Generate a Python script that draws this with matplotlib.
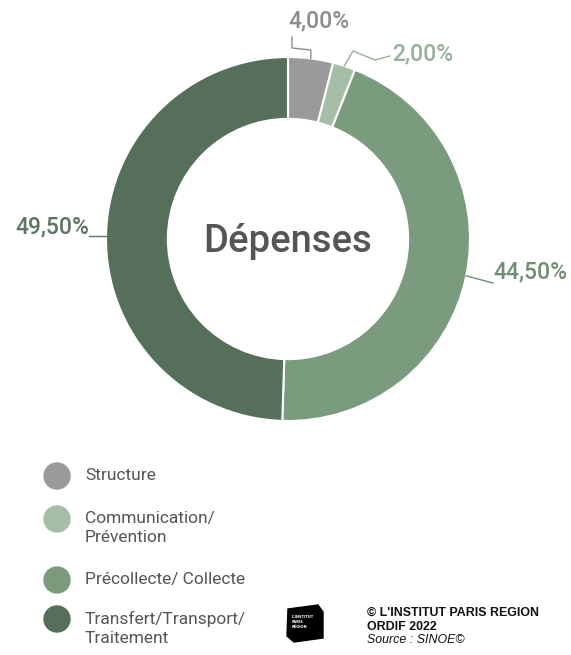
import numpy as np
import matplotlib.pyplot as plt
from matplotlib.patches import Circle, Polygon

categories = ['Structure', 'Communication/\nPrévention', 'Précollecte/ Collecte',
              'Transfert/Transport/\nTraitement']
values = [4.0, 2.0, 44.5, 49.5]
labels = ['4,00%', '2,00%', '44,50%', '49,50%']
colors = ['#9a9a9a', '#a6bda8', '#7b9b7e', '#566f5a']
label_colors = ['#8c8c8c', '#97b09a', '#6f8f72', '#5d7561']

W, H = 571, 655
fig = plt.figure(figsize=(W / 100, H / 100), dpi=100, facecolor='white')
ax = fig.add_axes([0, 0, 1, 1])

cx, cy, R = 288, H - 239, 182
wedges, _ = ax.pie(values, colors=colors, startangle=90, counterclock=False,
                   center=(cx, cy), radius=R, frame=True,
                   wedgeprops=dict(width=R * 0.34, edgecolor='white', linewidth=1.5))
ax.set_xlim(0, W)
ax.set_ylim(0, H)
ax.set_aspect('equal')
ax.axis('off')

ax.text(cx, cy - 2, 'Dépenses', ha='center', va='center', fontsize=27.5,
        family='Roboto', weight='medium', color='#555555')


def edge_point(w):
    a = np.deg2rad((w.theta1 + w.theta2) / 2)
    return cx + R * np.cos(a), cy + R * np.sin(a)


# leader lines + labels
kw = dict(lw=1.0)
lab = dict(fontsize=16.5, family='Roboto', weight='medium')
x0, y0 = edge_point(wedges[0])
ax.plot([x0, x0, 292, 292], [y0, H - 50, H - 48, H - 37], color=label_colors[0], **kw)
ax.text(288, H - 21, labels[0], ha='left', va='center', color=label_colors[0], **lab)

x1, y1 = edge_point(wedges[1])
ax.plot([x1, 353, 375, 390], [y1, H - 51, H - 60, H - 56], color=label_colors[1], **kw)
ax.text(392, H - 54, labels[1], ha='left', va='center', color=label_colors[1], **lab)

x2, y2 = edge_point(wedges[2])
ax.plot([x2, 493], [y2, H - 283], color=label_colors[2], **kw)
ax.text(493, H - 272, labels[2], ha='left', va='center', color=label_colors[2], **lab)

x3, y3 = edge_point(wedges[3])
ax.plot([x3, 89], [y3, y3], color=label_colors[3], **kw)
ax.text(89, y3 + 9, labels[3], ha='right', va='center', color=label_colors[3], **lab)

# legend
leg_y = [476, 519, 580, 619]
for c, name, ly in zip(colors, categories, leg_y):
    ax.add_patch(Circle((57, H - ly), 13, color=c))
    ax.text(85, H - ly + 8, name, ha='left', va='top', fontsize=12.5,
            family='Roboto', color='#555555', linespacing=1.3)

# logo block
ax.add_patch(Polygon([(288, H - 609), (318, H - 605), (323, H - 612), (323, H - 638),
                      (294, H - 642), (287, H - 636)], closed=True, color='black'))
ax.text(292, H - 622, "L'INSTITUT\nPARIS\nRÉGION", ha='left', va='center',
        fontsize=2.6, color='white', weight='bold', linespacing=1.2)

src = dict(ha='left', va='center', fontsize=8.9, family='Liberation Sans',
           color='#111111')
ax.text(367, H - 613, "© L'INSTITUT PARIS REGION", weight='bold', **src)
ax.text(367, H - 627, 'ORDIF 2022', weight='bold', **src)
ax.text(367, H - 640, 'Source : SINOE©', style='italic', **src)

fig.savefig('out.png', dpi=100, facecolor='white')
